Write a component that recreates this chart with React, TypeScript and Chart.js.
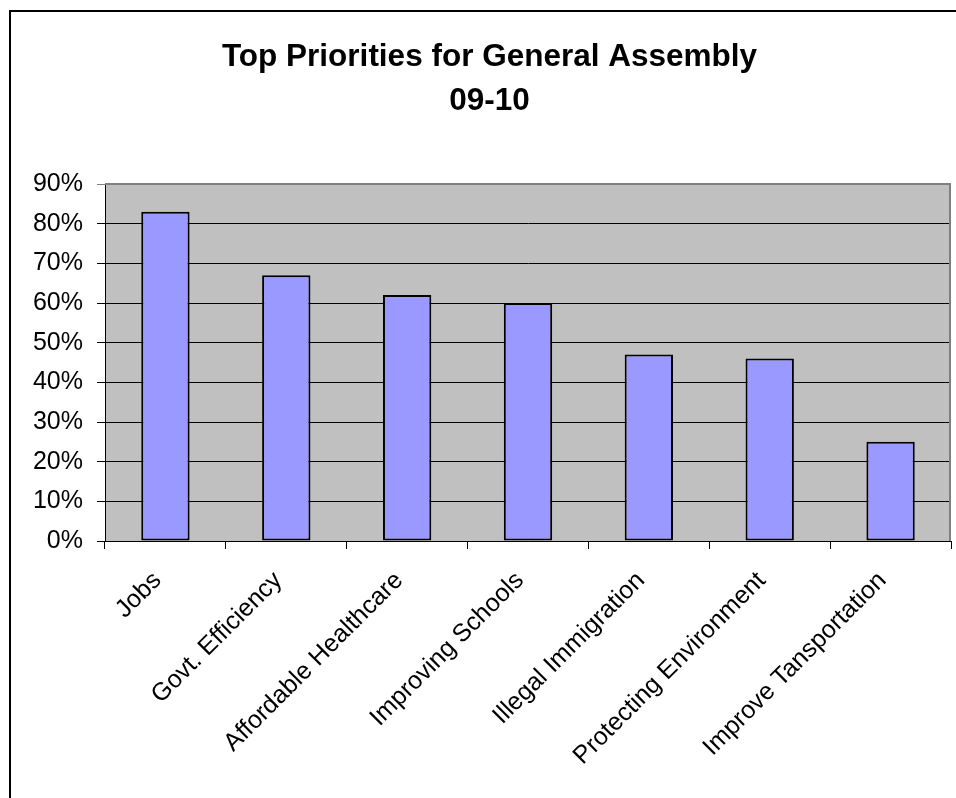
import React, { useEffect, useRef } from "react";
import { Chart, registerables } from "chart.js";

Chart.register(...registerables);

const categories = [
  "Jobs",
  "Govt. Efficiency",
  "Affordable Healthcare",
  "Improving Schools",
  "Illegal Immigration",
  "Protecting Environment",
  "Improve Tansportation",
];
const values = [83, 67, 62, 60, 47, 46, 25];
const titleLines = ["Top Priorities for General Assembly", "09-10"];
const yMax = 90;
const yStep = 10;

const plotBg = {
  id: "plotBg",
  beforeDraw(chart: any) {
    const { ctx, chartArea } = chart;
    ctx.save();
    ctx.fillStyle = "#C0C0C0";
    ctx.fillRect(chartArea.left, chartArea.top, chartArea.right - chartArea.left, chartArea.bottom - chartArea.top);
    ctx.restore();
  },
  beforeDatasetsDraw(chart: any) {
    const { ctx, chartArea } = chart;
    ctx.save();
    ctx.strokeStyle = "#808080";
    ctx.lineWidth = 2;
    ctx.beginPath();
    ctx.moveTo(chartArea.left, chartArea.top);
    ctx.lineTo(chartArea.right - 1, chartArea.top);
    ctx.lineTo(chartArea.right - 1, chartArea.bottom);
    ctx.stroke();
    ctx.restore();
  },
};

export default function App() {
  const ref = useRef<HTMLCanvasElement>(null);
  useEffect(() => {
    if (!ref.current) return;
    const chart = new Chart(ref.current, {
      type: "bar",
      data: {
        labels: categories,
        datasets: [
          {
            data: values,
            backgroundColor: "#9999FF",
            borderColor: "#000000",
            borderWidth: 2,
            borderSkipped: false,
            categoryPercentage: 1,
            barPercentage: 0.4,
          },
        ],
      },
      options: {
        animation: false,
        responsive: false,
        maintainAspectRatio: false,
        layout: { padding: { left: 28, right: 5, top: 0, bottom: 0 } },
        plugins: {
          legend: { display: false },
          tooltip: { enabled: false },
          title: {
            display: true,
            text: titleLines,
            color: "#000",
            font: { family: "'Liberation Sans', Arial, sans-serif", size: 31.5, weight: "bold", lineHeight: 44 / 31.5 },
            padding: { top: 35, bottom: 61 },
          },
        },
        scales: {
          x: {
            afterFit(scale: any) {
              scale.height = 257;
            },
            grid: {
              display: true,
              offset: true,
              drawOnChartArea: false,
              drawTicks: true,
              tickLength: 8,
              tickColor: "#000",
              color: "#000",
            },
            border: { display: true, color: "#000", width: 1 },
            ticks: {
              color: "#000",
              font: { family: "'Liberation Sans', Arial, sans-serif", size: 25 },
              minRotation: 45,
              maxRotation: 45,
              autoSkip: false,
              padding: 17,
              labelOffset: -8,
            },
          },
          y: {
            min: 0,
            max: yMax,
            afterFit(scale: any) {
              scale.width = 77;
            },
            grid: {
              color: (c: any) => (c.tick && c.tick.value === yMax ? "#808080" : "#000"),
              tickColor: (c: any) => (c.tick && c.tick.value === yMax ? "#808080" : "#000"),
              tickLength: 8,
              lineWidth: 1,
            },
            border: { display: true, color: "#000", width: 1 },
            ticks: {
              stepSize: yStep,
              color: "#000",
              padding: 14,
              font: { family: "'Liberation Sans', Arial, sans-serif", size: 25 },
              callback: (v: any) => v + "%",
            },
          },
        },
      },
      plugins: [plotBg],
    });
    return () => chart.destroy();
  }, []);

  return (
    <div style={{ position: "fixed", left: 0, top: 0, width: 956, height: 798, overflow: "hidden", background: "#fff" }}>
      <canvas ref={ref} width={956} height={798} style={{ position: "absolute", left: 0, top: 0, width: 956, height: 798 }} />
      <div
        style={{
          position: "absolute",
          left: 9,
          top: 10,
          width: 1200,
          height: 1200,
          borderLeft: "2px solid #000",
          borderTop: "2px solid #000",
          pointerEvents: "none",
        }}
      />
    </div>
  );
}
